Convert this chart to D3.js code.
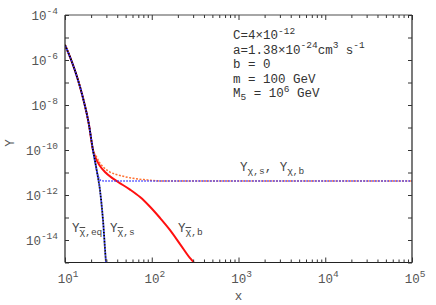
<!DOCTYPE html>
<html>
<head>
<meta charset="utf-8">
<script src="https://cdn.jsdelivr.net/npm/d3@7"></script>
<style>
  body { margin: 0; background: #fff; }
  text { font-family: "Liberation Mono", monospace; }
</style>
</head>
<body>
<svg id="chart" width="436" height="305"></svg>
<script>
// values
var eqX = [10, 12, 13.75, 16, 18.9, 21, 23.4, 25.3, 27.4, 29.7, 31]
var eqY = [4.7e-6, 8.3e-7, 1.8e-7, 2.3e-8, 1.3e-9, 1.0e-10, 1.05e-11, 1.66e-12, 7.8e-14, 1.0e-15, 2e-16]

var chisX = [10, 12, 13.75, 16, 18.9, 21, 23.4, 24.3, 25.3, 26.5, 28, 100, 1e5]
var chisY = [4.7e-6, 8.3e-7, 1.8e-7, 2.3e-8, 1.3e-9, 1.0e-10, 1.05e-11, 6.3e-12, 4.7e-12, 4.3e-12, 4.2e-12, 4.2e-12, 4.2e-12]

var chibX = [10, 12, 13.75, 16, 18.9, 21, 22.8, 25.3, 27.7, 33, 43, 60.8, 87.5, 125, 1e5]
var chibY = [4.7e-6, 8.3e-7, 1.8e-7, 2.3e-8, 1.3e-9, 1.0e-10, 5.4e-11, 2.6e-11, 1.74e-11, 1.05e-11, 7.4e-12, 5.5e-12, 4.7e-12, 4.2e-12, 4.2e-12]

var barbX = [10, 12, 13.75, 16, 18.9, 21, 22.8, 25.3, 28.9, 34.8, 40.8, 56.2, 73.3, 95.5, 124.7, 162.6, 211.8, 276.5, 302, 330]
var barbY = [4.7e-6, 8.3e-7, 1.8e-7, 2.3e-8, 1.3e-9, 1.0e-10, 4.0e-11, 1.95e-11, 1.05e-11, 5.75e-12, 3.8e-12, 1.74e-12, 8.1e-13, 3.0e-13, 9.5e-14, 2.75e-14, 6.6e-15, 1.55e-15, 1.05e-15, 5e-16]

var xTickExps = [1, 2, 3, 4, 5]
var yTickExps = [-4, -6, -8, -10, -12, -14]

function drawChart () {
  var svg = d3.select('#chart')
  var mLeft = 65, mRight = 412, mTop = 15, mBottom = 262.5

  var x = d3.scaleLog().domain([10, 1e5]).range([mLeft, mRight])
  var y = d3.scaleLog().domain([1e-15, 1e-4]).range([mBottom, mTop])

  svg.append('clipPath').attr('id', 'clip')
    .append('rect')
    .attr('x', mLeft).attr('y', mTop)
    .attr('width', mRight - mLeft).attr('height', mBottom - mTop)

  var plot = svg.append('g').attr('clip-path', 'url(#clip)')

  function zipPts (xs, ys) {
    return xs.map(function (v, i) { return [v, ys[i]] })
  }

  var line = d3.line()
    .x(function (d) { return x(d[0]) })
    .y(function (d) { return y(d[1]) })
    .curve(d3.curveMonotoneX)

  // red solid (chi-bar, b)
  plot.append('path').attr('d', line(zipPts(barbX, barbY)))
    .attr('fill', 'none').attr('stroke', '#ff1010').attr('stroke-width', 2)
  // orange dotted (chi, b)
  plot.append('path').attr('d', line(zipPts(chibX, chibY)))
    .attr('fill', 'none').attr('stroke', '#ff7030').attr('stroke-width', 1.5)
    .attr('stroke-dasharray', '2,1.5')
  // blue dotted (chi, s)
  plot.append('path').attr('d', line(zipPts(chisX, chisY)))
    .attr('fill', 'none').attr('stroke', '#3a3aff').attr('stroke-width', 1.5)
    .attr('stroke-dasharray', '1.5,1.5').attr('stroke-dashoffset', 1.5)
  // blue dotted (chi-bar, s) follows eq
  plot.append('path').attr('d', line(zipPts(eqX, eqY)))
    .attr('fill', 'none').attr('stroke', '#3a3aff').attr('stroke-width', 1.8)
    .attr('stroke-dasharray', '1.5,1.5').attr('stroke-dashoffset', 1.5)
  // black dotted eq
  plot.append('path').attr('d', line(zipPts(eqX, eqY)))
    .attr('fill', 'none').attr('stroke', '#000').attr('stroke-width', 1.8)
    .attr('stroke-dasharray', '1.5,1.5')

  // frame
  svg.append('line').attr('x1', mLeft).attr('x2', mRight).attr('y1', mTop).attr('y2', mTop)
    .attr('stroke', '#888').attr('stroke-width', 1.5)
  svg.append('line').attr('x1', mLeft).attr('x2', mLeft).attr('y1', mTop).attr('y2', mBottom)
    .attr('stroke', '#222').attr('stroke-width', 1.2)
  svg.append('line').attr('x1', mRight).attr('x2', mRight).attr('y1', mTop).attr('y2', mBottom)
    .attr('stroke', '#222').attr('stroke-width', 1.2)
  svg.append('line').attr('x1', mLeft).attr('x2', mRight).attr('y1', mBottom).attr('y2', mBottom)
    .attr('stroke', '#222').attr('stroke-width', 1.2)

  // x ticks, bottom and top
  var xMinor = []
  for (var e = 1; e < 5; e++) {
    for (var m = 2; m <= 9; m++) xMinor.push(m * Math.pow(10, e))
  }
  var xMajor = xTickExps.map(function (e) { return Math.pow(10, e) })

  function noDomain (g) { g.select('.domain').remove() }

  svg.append('g').attr('transform', 'translate(0,' + mBottom + ')')
    .call(d3.axisBottom(x).tickValues(xMinor).tickSize(-3).tickFormat('')).call(noDomain)
  svg.append('g').attr('transform', 'translate(0,' + mBottom + ')')
    .call(d3.axisBottom(x).tickValues(xMajor).tickSize(-5).tickFormat('')).call(noDomain)
  svg.append('g').attr('transform', 'translate(0,' + mTop + ')')
    .call(d3.axisTop(x).tickValues(xMinor).tickSize(-3).tickFormat('')).call(noDomain)
  svg.append('g').attr('transform', 'translate(0,' + mTop + ')')
    .call(d3.axisTop(x).tickValues(xMajor).tickSize(-5).tickFormat('')).call(noDomain)

  // y ticks every decade, left and right
  var yDecades = d3.range(-15, -3).map(function (e) { return Math.pow(10, e) })
  svg.append('g').attr('transform', 'translate(' + mLeft + ',0)')
    .call(d3.axisLeft(y).tickValues(yDecades).tickSize(-4).tickFormat('')).call(noDomain)
  svg.append('g').attr('transform', 'translate(' + mRight + ',0)')
    .call(d3.axisRight(y).tickValues(yDecades).tickSize(-4).tickFormat('')).call(noDomain)
  svg.selectAll('.tick line').attr('stroke', '#333')

  // power-of-ten labels
  function powLabel (px, py, exp, anchor) {
    var t = svg.append('text').attr('x', px).attr('y', py)
      .attr('text-anchor', anchor).attr('fill', '#555').attr('font-size', 12.5)
    t.append('tspan').text('10')
    t.append('tspan').attr('font-size', 9.5).attr('dy', -6).text(exp)
  }
  xTickExps.forEach(function (e) {
    powLabel(x(Math.pow(10, e)) + 3, 283, e, 'middle')
  })
  yTickExps.forEach(function (e) {
    powLabel(mLeft - 7, y(Math.pow(10, e)) + 5, e, 'end')
  })

  // axis titles
  svg.append('text').attr('x', (mLeft + mRight) / 2).attr('y', 300)
    .attr('text-anchor', 'middle').attr('fill', '#555').attr('font-size', 12.5).text('x')
  svg.append('text').attr('transform', 'translate(14,143) rotate(-90)')
    .attr('text-anchor', 'middle').attr('fill', '#555').attr('font-size', 12.5).text('Y')

  // rich text: parts are [text, level, overline]
  function richText (px, py, parts, color) {
    var t = svg.append('text').attr('x', px).attr('y', py)
      .attr('fill', color).attr('font-size', 12.5).attr('xml:space', 'preserve')
    var shift = 0
    parts.forEach(function (p) {
      var want = p[1] === 1 ? -5.5 : (p[1] === -1 ? 3 : 0)
      var ts = t.append('tspan').attr('dy', want - shift)
        .attr('font-size', p[1] === 0 ? 12.5 : 9.5).text(p[0])
      if (p[2]) ts.style('text-decoration', 'overline')
      shift = want
    })
    return t
  }

  var paramLines = [
    [['C=4×10', 0], ['-12', 1]],
    [['a=1.38×10', 0], ['-24', 1], ['cm', 0], ['3', 1], [' s', 0], ['-1', 1]],
    [['b = 0', 0]],
    [['m = 100 GeV', 0]],
    [['M', 0], ['5', -1], [' = 10', 0], ['6', 1], [' GeV', 0]]
  ]
  paramLines.forEach(function (parts, i) {
    richText(233, 39 + i * 14.5, parts, '#333')
  })

  // curve labels
  richText(240, 171, [['Y', 0], ['χ,s', -1], [', ', 0], ['Y', 0], ['χ,b', -1]], '#444')
  richText(72, 232, [['Y', 0], ['χ', -1, true], [',eq', -1]], '#444')
  richText(110, 232, [['Y', 0], ['χ', -1, true], [',s', -1]], '#444')
  richText(178, 232, [['Y', 0], ['χ', -1, true], [',b', -1]], '#444')
}

drawChart()
</script>
</body>
</html>
